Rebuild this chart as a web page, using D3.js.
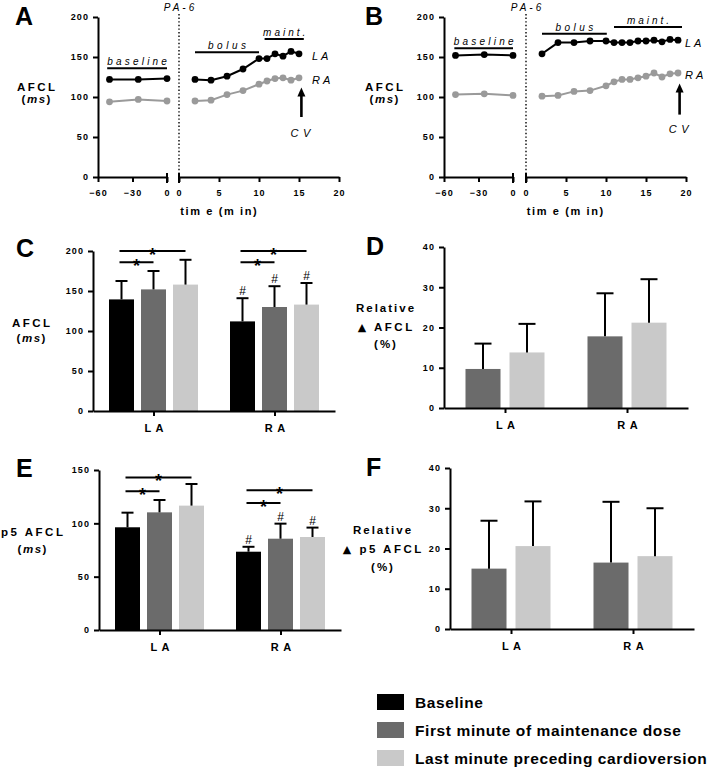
<!DOCTYPE html>
<html><head><meta charset="utf-8">
<script src="https://cdn.jsdelivr.net/npm/d3@7"></script>
<style>
body{margin:0;background:#fff;}
svg{display:block;font-family:"Liberation Sans",Arial,sans-serif;}
</style></head><body>
<svg id="fig" width="709" height="770"></svg>
<script>
// ---------------- DATA ----------------
const baselineTimes = [-50, -25, 0];
const timesA = [2, 4, 6, 8, 10, 11, 12, 13, 14, 15];
const laBaseA = [122, 122, 123];
const raBaseA = [94, 97, 95];
const laA = [122, 121, 126, 135, 148, 148, 154, 151, 157, 154];
const raA = [95, 96, 103, 108, 116, 120, 123, 124, 121, 124];

const timesB = [2, 4, 6, 8, 10, 11, 12, 13, 14, 15, 16, 17, 18, 19];
const laBaseB = [152, 153, 152];
const raBaseB = [103, 104, 102];
const laB = [154, 168, 168, 170, 170, 168, 168, 168, 170, 170, 171, 169, 172, 171];
const raB = [101, 102, 107, 108, 114, 119, 122, 122, 124, 126, 130, 125, 129, 130];

const atria = ["LA", "RA"];
const conditions = ["Baseline", "First minute of maintenance dose", "Last minute preceding cardioversion"];
const xTicksLeft = [-60, -30, 0];
const xTicksRight = [0, 5, 10, 15, 20];
const yTicksAFCL = [0, 50, 100, 150, 200];
const yTicksP5 = [0, 50, 100, 150];
const yTicksRel = [0, 10, 20, 30, 40];

// C: AFCL (ms), mean and SD
const afclLA = [139.5, 152, 158], afclLAsd = [23, 23, 31];
const afclRA = [112, 130, 133], afclRAsd = [29, 26, 27];
// D: relative delta AFCL (%)
const relLA = [9.7, 13.8], relLAsd = [6.3, 7.1];
const relRA = [17.8, 21.2], relRAsd = [10.7, 10.8];
// E: p5 AFCL (ms)
const p5LA = [96.3, 110.3, 116.6], p5LAsd = [13.7, 11.6, 20.3];
const p5RA = [73.4, 85.6, 87.2], p5RAsd = [4.6, 14.1, 8.8];
// F: relative delta p5 AFCL (%)
const relp5LA = [15, 20.6], relp5LAsd = [11.9, 11.1];
const relp5RA = [16.5, 18.1], relp5RAsd = [15.1, 11.9];

// significance: [atrium, fromCondition, toCondition, bracket value]
const sigC = [["LA", 0, 2, 200], ["LA", 0, 1, 186], ["RA", 0, 2, 200], ["RA", 0, 1, 186]];
const sigE = [["LA", 0, 2, 143], ["LA", 0, 1, 130], ["RA", 0, 2, 131], ["RA", 0, 1, 119]];
const hashC = [["RA", 0], ["RA", 1], ["RA", 2]];
const hashE = [["RA", 0], ["RA", 1], ["RA", 2]];

// ---------------- DRAWING ----------------
const FONT = '"Liberation Sans", Arial, sans-serif';
const condColors = ["#000000", "#6b6b6b", "#c9c9c9"];
const svg = d3.select("#fig");

function styleAxis(g) {
  g.select(".domain").attr("stroke", "#000").attr("stroke-width", 2);
  g.selectAll(".tick line").attr("stroke", "#000").attr("stroke-width", 2);
  g.selectAll(".tick text").attr("font-family", FONT).attr("font-weight", "bold")
    .attr("font-size", 9).attr("letter-spacing", 1.1).attr("fill", "#000");
}

function spacedText(g, x, y, str, opts) {
  const ls = opts.ls || 0;
  const t = g.append("text").attr("x", x + (opts.anchor === "start" ? 0 : ls / 2)).attr("y", y)
    .attr("text-anchor", opts.anchor || "middle")
    .attr("font-family", FONT).attr("font-size", opts.size || 11)
    .attr("font-weight", opts.weight || "normal")
    .attr("font-style", opts.style || "normal")
    .attr("letter-spacing", ls).attr("fill", opts.fill || "#000");
  if (typeof str === "string") t.text(str);
  else str.forEach(p => {
    const ts = t.append("tspan").text(p.t);
    if (p.style) ts.attr("font-style", p.style);
    if (p.family) ts.attr("font-family", p.family);
    if (p.size) ts.attr("font-size", p.size);
  });
  return t;
}

function panelLetter(x, y, L) {
  svg.append("text").attr("x", x).attr("y", y).attr("font-family", FONT)
    .attr("font-weight", "bold").attr("font-size", 25).text(L);
}

function yLabel(cx, lines) {
  lines.forEach(l => spacedText(svg, cx, l.y, l.parts, {size: 11.5, weight: "bold", ls: l.ls || 2.5}));
}

function linePanel(o) {
  const g = svg.append("g");
  const y = d3.scaleLinear().domain([0, 200]).range([177, 17]);
  const xl = d3.scaleLinear().domain([-60, 0]).range(o.left);
  const xr = d3.scaleLinear().domain([0, 20]).range(o.right);

  // dotted drug start line
  g.append("line").attr("x1", xr(0)).attr("x2", xr(0)).attr("y1", 14).attr("y2", y(0))
    .attr("stroke", "#000").attr("stroke-width", 1.4).attr("stroke-dasharray", "1.4,2.2");
  spacedText(g, xr(0), 11, "PA-6", {size: 10, style: "italic", ls: 3});

  const series = [
    {color: "#9a9a9a", base: o.raBase, main: o.ra},
    {color: "#000000", base: o.laBase, main: o.la}
  ];
  series.forEach(s => {
    const bpts = baselineTimes.map((t, i) => [t, s.base[i]]);
    const mpts = o.times.map((t, i) => [t, s.main[i]]);
    g.append("path").attr("d", d3.line().x(d => xl(d[0])).y(d => y(d[1]))(bpts))
      .attr("fill", "none").attr("stroke", s.color).attr("stroke-width", 2);
    g.append("path").attr("d", d3.line().x(d => xr(d[0])).y(d => y(d[1]))(mpts))
      .attr("fill", "none").attr("stroke", s.color).attr("stroke-width", 2);
    g.selectAll(null).data(bpts).join("circle").attr("cx", d => xl(d[0])).attr("cy", d => y(d[1]))
      .attr("r", 3.4).attr("fill", s.color);
    g.selectAll(null).data(mpts).join("circle").attr("cx", d => xr(d[0])).attr("cy", d => y(d[1]))
      .attr("r", 3.4).attr("fill", s.color);
  });

  // axes
  g.append("g").attr("transform", `translate(${o.left[0]},0)`)
    .call(d3.axisLeft(y).tickValues(yTicksAFCL).tickSize(5).tickSizeOuter(0).tickPadding(4)).call(styleAxis);
  g.append("g").attr("transform", `translate(0,${y(0)})`)
    .call(d3.axisBottom(xl).tickValues(xTicksLeft).tickSize(5).tickSizeOuter(0).tickPadding(8)).call(styleAxis);
  g.append("g").attr("transform", `translate(0,${y(0)})`)
    .call(d3.axisBottom(xr).tickValues(xTicksRight).tickSize(5).tickSizeOuter(0).tickPadding(8)).call(styleAxis);
  [xl(0), xr(0)].forEach(x => g.append("line").attr("x1", x).attr("x2", x)
    .attr("y1", y(0) - 4).attr("y2", y(0) + 6).attr("stroke", "#000").attr("stroke-width", 2));

  const xmid = (o.left[0] + o.right[1]) / 2;
  spacedText(g, xmid, 215, [{t: "tim e (m in)"}], {size: 11, weight: "bold", ls: 1.6});

  // phase annotations
  o.phases.forEach(p => {
    const sc = p.side === "l" ? xl : xr;
    const x1 = sc(p.from), x2 = sc(p.to), yy = y(p.y);
    g.append("line").attr("x1", x1).attr("x2", x2).attr("y1", yy).attr("y2", yy)
      .attr("stroke", "#000").attr("stroke-width", 2);
    spacedText(g, (x1 + x2) / 2, yy - 3, p.label, {size: 10, style: "italic", ls: p.ls});
  });
  spacedText(g, o.labelX, y(o.laLabelY) + 4, "LA", {size: 11, style: "italic", ls: 3, anchor: "start"});
  spacedText(g, o.labelX, y(o.raLabelY) + 4, "RA", {size: 11, style: "italic", ls: 3, anchor: "start"});

  // CV arrow
  const ax = xr(o.arrowT), tip = y(o.arrowTip), tail = y(o.arrowTail);
  g.append("line").attr("x1", ax).attr("x2", ax).attr("y1", tail).attr("y2", tip + 6)
    .attr("stroke", "#000").attr("stroke-width", 2.6);
  g.append("path").attr("d", `M${ax},${tip} L${ax - 4},${tip + 9} L${ax + 4},${tip + 9} Z`).attr("fill", "#000");
  spacedText(g, ax - 1, y(o.cvY) + 4, "CV", {size: 11, style: "italic", ls: 4.5});
}

function barPanel(o) {
  const g = svg.append("g");
  const y = d3.scaleLinear().domain(o.yDomain).range(o.yRange);
  const x = d3.scalePoint().domain(atria).range(o.xRange).padding(0.5);
  const n = o.conds.length;
  const total = n * o.bw + (n - 1) * o.gap;
  const xi = d3.scaleBand().domain(o.conds).range([-total / 2, total / 2])
    .paddingInner(o.gap / (o.bw + o.gap)).paddingOuter(0);
  const cx = (a, c) => x(a) + xi(c) + xi.bandwidth() / 2;
  const rows = [];
  atria.forEach((a, ai) => o.conds.forEach((c, ci) => rows.push({a, c, v: o.values[ai][ci], sd: o.sds[ai][ci]})));

  g.selectAll("rect.bar").data(rows).join("rect").attr("class", "bar")
    .attr("x", d => x(d.a) + xi(d.c)).attr("width", xi.bandwidth())
    .attr("y", d => y(d.v)).attr("height", d => y(0) - y(d.v))
    .attr("fill", d => condColors[d.c]);
  // error bars
  g.selectAll("line.err").data(rows).join("line").attr("class", "err")
    .attr("x1", d => cx(d.a, d.c)).attr("x2", d => cx(d.a, d.c))
    .attr("y1", d => y(d.v)).attr("y2", d => y(d.v + d.sd))
    .attr("stroke", "#000").attr("stroke-width", 2);
  g.selectAll("line.cap").data(rows).join("line").attr("class", "cap")
    .attr("x1", d => cx(d.a, d.c) - o.cap / 2).attr("x2", d => cx(d.a, d.c) + o.cap / 2)
    .attr("y1", d => y(d.v + d.sd)).attr("y2", d => y(d.v + d.sd))
    .attr("stroke", "#000").attr("stroke-width", 2);

  // significance brackets
  (o.sig || []).forEach(s => {
    const x1 = cx(s[0], s[1]) - 2, x2 = cx(s[0], s[2]), yy = y(s[3]);
    g.append("line").attr("x1", x1).attr("x2", x2).attr("y1", yy).attr("y2", yy)
      .attr("stroke", "#000").attr("stroke-width", 2);
    g.append("text").attr("x", (x1 + x2) / 2).attr("y", yy + 10).attr("text-anchor", "middle")
      .attr("font-family", FONT).attr("font-weight", "bold").attr("font-size", 18).text("*");
  });
  (o.hash || []).forEach(h => {
    const ai = atria.indexOf(h[0]);
    const ci = o.conds.indexOf(h[1]);
    const top = y(o.values[ai][ci] + o.sds[ai][ci]);
    g.append("text").attr("x", cx(h[0], h[1])).attr("y", top - 3).attr("text-anchor", "middle")
      .attr("font-family", FONT).attr("font-size", 12).text("#");
  });

  g.append("g").attr("transform", `translate(${o.xRange[0]},0)`)
    .call(d3.axisLeft(y).tickValues(o.yTicks).tickSize(5).tickSizeOuter(0).tickPadding(4)).call(styleAxis);
  const xa = g.append("g").attr("transform", `translate(0,${y(0)})`)
    .call(d3.axisBottom(x).tickSize(5).tickSizeOuter(0).tickPadding(8)).call(styleAxis);
  xa.selectAll(".tick text").attr("font-size", 11).attr("letter-spacing", 4.5).attr("dx", 2.2);
}

// Panel A
panelLetter(15, 25, "A");
yLabel(36, [{y: 91, parts: [{t: "AFCL"}]}, {y: 103, ls: 1.5, parts: [{t: "("}, {t: "ms", style: "italic"}, {t: ")"}]}]);
linePanel({
  left: [98, 167], right: [179, 339],
  times: timesA, laBase: laBaseA, raBase: raBaseA, la: laA, ra: raA,
  phases: [
    {label: "baseline", side: "l", from: -52, to: 0, y: 136, ls: 3.2},
    {label: "bolus", side: "r", from: 2, to: 10, y: 156, ls: 3.5},
    {label: "maint.", side: "r", from: 10.7, to: 15.6, y: 172.5, ls: 3}
  ],
  labelX: 312, laLabelY: 151, raLabelY: 121,
  arrowT: 15.3, arrowTip: 112, arrowTail: 75, cvY: 55
});

// Panel B
panelLetter(365, 25, "B");
yLabel(384, [{y: 91, parts: [{t: "AFCL"}]}, {y: 103, ls: 1.5, parts: [{t: "("}, {t: "ms", style: "italic"}, {t: ")"}]}]);
linePanel({
  left: [444, 513], right: [526, 686],
  times: timesB, laBase: laBaseB, raBase: raBaseB, la: laB, ra: raB,
  phases: [
    {label: "baseline", side: "l", from: -51, to: 0, y: 161, ls: 3.2},
    {label: "bolus", side: "r", from: 2, to: 10.1, y: 179, ls: 3.5},
    {label: "maint.", side: "r", from: 11, to: 19.5, y: 187.5, ls: 3}
  ],
  labelX: 685, laLabelY: 167.5, raLabelY: 127.5,
  arrowT: 19.2, arrowTip: 117, arrowTail: 78, cvY: 60
});

// Panel C
panelLetter(16, 257, "C");
yLabel(31, [{y: 327, parts: [{t: "AFCL"}]}, {y: 342, ls: 1.5, parts: [{t: "("}, {t: "ms", style: "italic"}, {t: ")"}]}]);
barPanel({
  xRange: [93, 335], yRange: [411, 251], yDomain: [0, 200], yTicks: yTicksAFCL,
  conds: [0, 1, 2], values: [afclLA, afclRA], sds: [afclLAsd, afclRAsd],
  bw: 25, gap: 7, cap: 12, sig: sigC, hash: hashC
});

// Panel D
panelLetter(366, 255, "D");
yLabel(385, [
  {y: 312, ls: 2, parts: [{t: "Relative"}]},
  {y: 331, parts: [{t: "▲", family: "DejaVu Sans", size: 11}, {t: " AFCL"}]},
  {y: 348, ls: 2, parts: [{t: "(%)"}]}
]);
barPanel({
  xRange: [444, 688], yRange: [408, 247], yDomain: [0, 40], yTicks: yTicksRel,
  conds: [1, 2], values: [relLA, relRA], sds: [relLAsd, relRAsd],
  bw: 35, gap: 9, cap: 17
});

// Panel E
panelLetter(16, 477, "E");
yLabel(32, [{y: 536, parts: [{t: "p5 AFCL"}]}, {y: 553, ls: 1.5, parts: [{t: "("}, {t: "ms", style: "italic"}, {t: ")"}]}]);
barPanel({
  xRange: [99, 341], yRange: [630, 470], yDomain: [0, 150], yTicks: yTicksP5,
  conds: [0, 1, 2], values: [p5LA, p5RA], sds: [p5LAsd, p5RAsd],
  bw: 25, gap: 7, cap: 12, sig: sigE, hash: hashE
});

// Panel F
panelLetter(366, 476, "F");
yLabel(382, [
  {y: 534, ls: 2, parts: [{t: "Relative"}]},
  {y: 553, parts: [{t: "▲", family: "DejaVu Sans", size: 11}, {t: " p5 AFCL"}]},
  {y: 571, ls: 2, parts: [{t: "(%)"}]}
]);
barPanel({
  xRange: [450, 694], yRange: [629, 468], yDomain: [0, 40], yTicks: yTicksRel,
  conds: [1, 2], values: [relp5LA, relp5RA], sds: [relp5LAsd, relp5RAsd],
  bw: 35, gap: 9, cap: 17
});

// Legend
const leg = svg.append("g");
conditions.forEach((c, i) => {
  const yy = 694 + i * 28;
  leg.append("rect").attr("x", 377).attr("y", yy).attr("width", 27).attr("height", 16).attr("fill", condColors[i]);
  leg.append("text").attr("x", 415).attr("y", yy + 14).attr("font-family", FONT).attr("font-weight", "bold")
    .attr("font-size", 15.5).attr("letter-spacing", 0.6).attr("fill", "#000").text(c);
});
</script>
</body></html>
